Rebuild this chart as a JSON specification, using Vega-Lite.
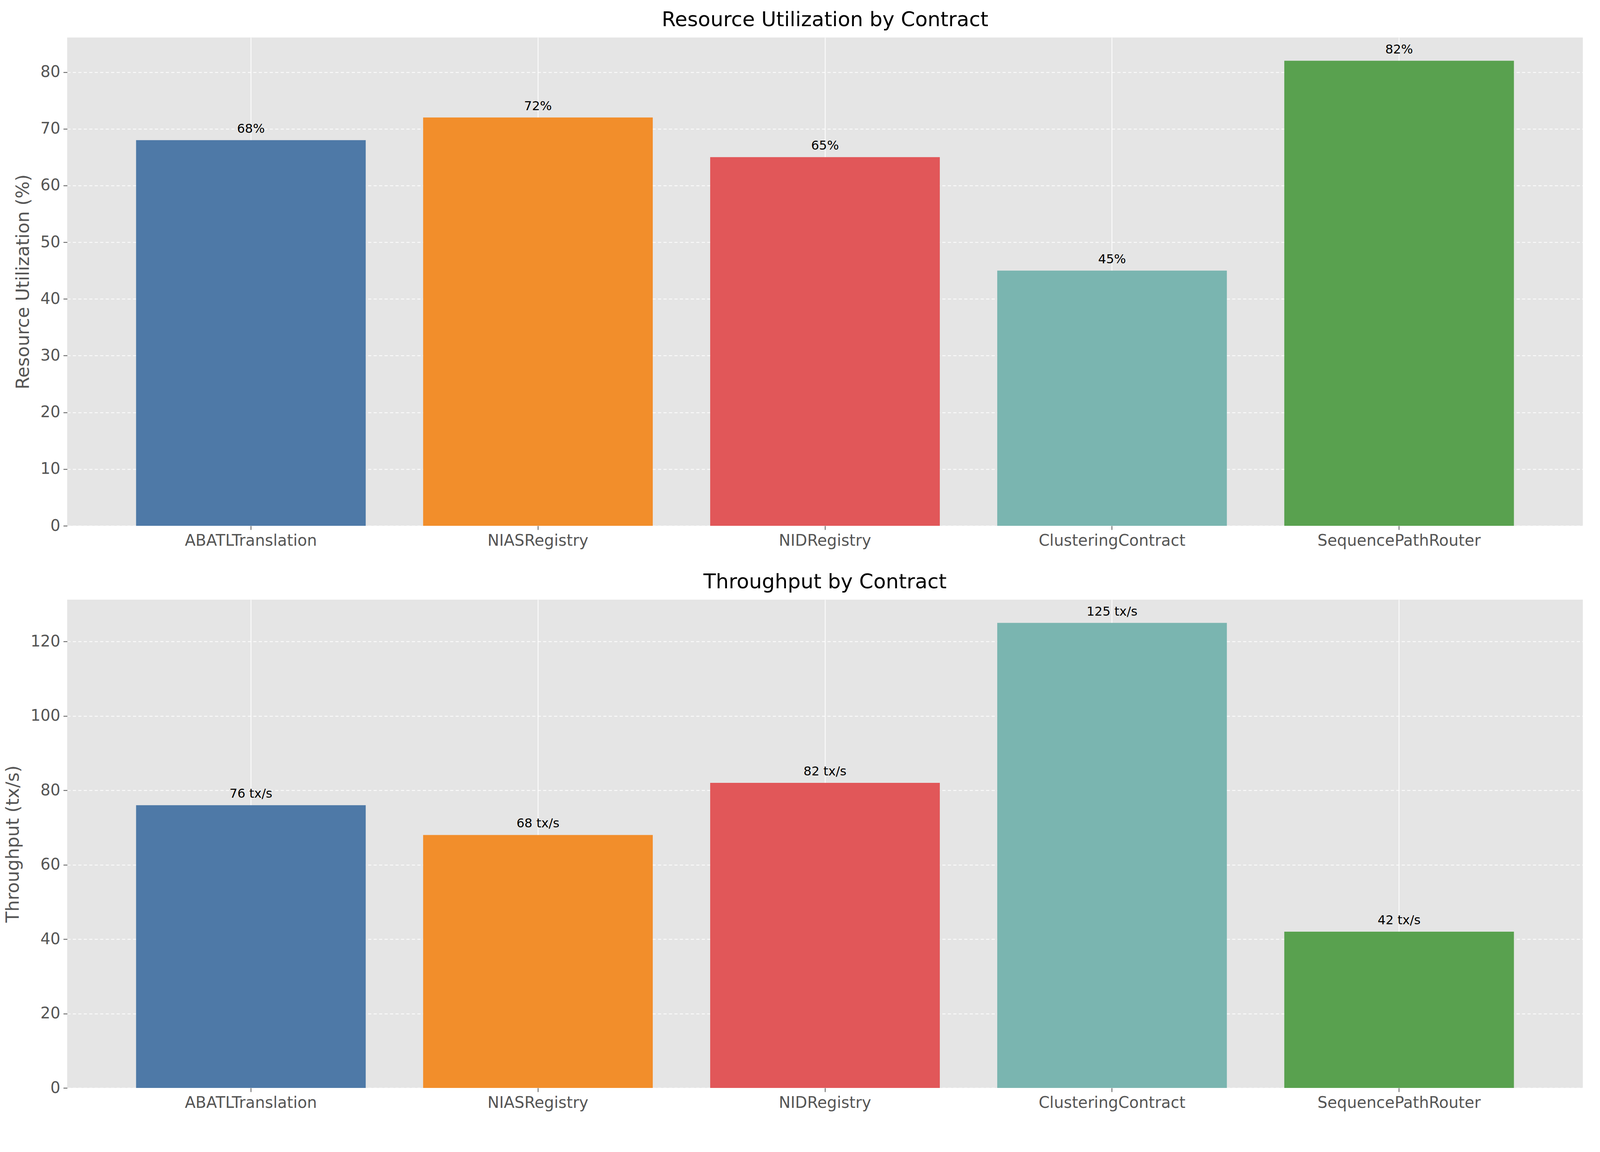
{
  "$schema": "https://vega.github.io/schema/vega-lite/v6.json",
  "description": "Resource utilization and throughput by contract",
  "padding": {"left": 10, "top": 25, "right": 20, "bottom": 10},
  "spacing": 60,
  "datasets": {
    "util": [
      {"contract": "ABATLTranslation", "value": 68, "label": "68%"},
      {"contract": "NIASRegistry", "value": 72, "label": "72%"},
      {"contract": "NIDRegistry", "value": 65, "label": "65%"},
      {"contract": "ClusteringContract", "value": 45, "label": "45%"},
      {"contract": "SequencePathRouter", "value": 82, "label": "82%"}
    ],
    "tput": [
      {"contract": "ABATLTranslation", "value": 76, "label": "76 tx/s"},
      {"contract": "NIASRegistry", "value": 68, "label": "68 tx/s"},
      {"contract": "NIDRegistry", "value": 82, "label": "82 tx/s"},
      {"contract": "ClusteringContract", "value": 125, "label": "125 tx/s"},
      {"contract": "SequencePathRouter", "value": 42, "label": "42 tx/s"}
    ]
  },
  "vconcat": [
    {
      "title": "Resource Utilization by Contract",
      "width": 3880,
      "height": 1250,
      "data": {"name": "util"},
      "encoding": {
        "x": {
          "field": "contract", "type": "nominal", "sort": null, "title": null,
          "scale": {"paddingInner": 0.2, "paddingOuter": 0.24},
          "axis": {"labelAngle": 0, "grid": true, "bandPosition": 0.5, "gridDash": []}
        },
        "y": {
          "field": "value", "type": "quantitative", "title": "Resource Utilization (%)",
          "scale": {"domain": [0, 86.1], "nice": false},
          "axis": {"values": [0, 10, 20, 30, 40, 50, 60, 70, 80]}
        }
      },
      "layer": [
        {
          "mark": "bar",
          "encoding": {
            "color": {
              "field": "contract", "type": "nominal", "sort": null, "legend": null,
              "scale": {"range": ["#4e79a7", "#f28e2b", "#e15759", "#7ab5b0", "#59a14f"]}
            }
          }
        },
        {
          "mark": {"type": "text", "baseline": "bottom", "dy": -12, "fontSize": 32, "color": "black"},
          "encoding": {"text": {"field": "label"}}
        }
      ]
    },
    {
      "title": "Throughput by Contract",
      "width": 3880,
      "height": 1250,
      "data": {"name": "tput"},
      "encoding": {
        "x": {
          "field": "contract", "type": "nominal", "sort": null, "title": null,
          "scale": {"paddingInner": 0.2, "paddingOuter": 0.24},
          "axis": {"labelAngle": 0, "grid": true, "bandPosition": 0.5, "gridDash": []}
        },
        "y": {
          "field": "value", "type": "quantitative", "title": "Throughput (tx/s)",
          "scale": {"domain": [0, 131.25], "nice": false},
          "axis": {"values": [0, 20, 40, 60, 80, 100, 120]}
        }
      },
      "layer": [
        {
          "mark": "bar",
          "encoding": {
            "color": {
              "field": "contract", "type": "nominal", "sort": null, "legend": null,
              "scale": {"range": ["#4e79a7", "#f28e2b", "#e15759", "#7ab5b0", "#59a14f"]}
            }
          }
        },
        {
          "mark": {"type": "text", "baseline": "bottom", "dy": -12, "fontSize": 32, "color": "black"},
          "encoding": {"text": {"field": "label"}}
        }
      ]
    }
  ],
  "config": {
    "font": "DejaVu Sans",
    "view": {"fill": "#e5e5e5", "stroke": null},
    "title": {"fontSize": 52, "fontWeight": "normal", "color": "black", "offset": 18},
    "axis": {
      "labelFontSize": 40, "labelColor": "#555555", "titleFontSize": 46,
      "titleFontWeight": "normal", "titleColor": "#555555", "domain": false,
      "tickColor": "#555555", "tickSize": 10, "tickWidth": 2, "labelPadding": 8,
      "labelLimit": 0, "gridColor": "white", "gridWidth": 2
    },
    "axisY": {"gridDash": [8, 6], "titlePadding": 20}
  }
}
